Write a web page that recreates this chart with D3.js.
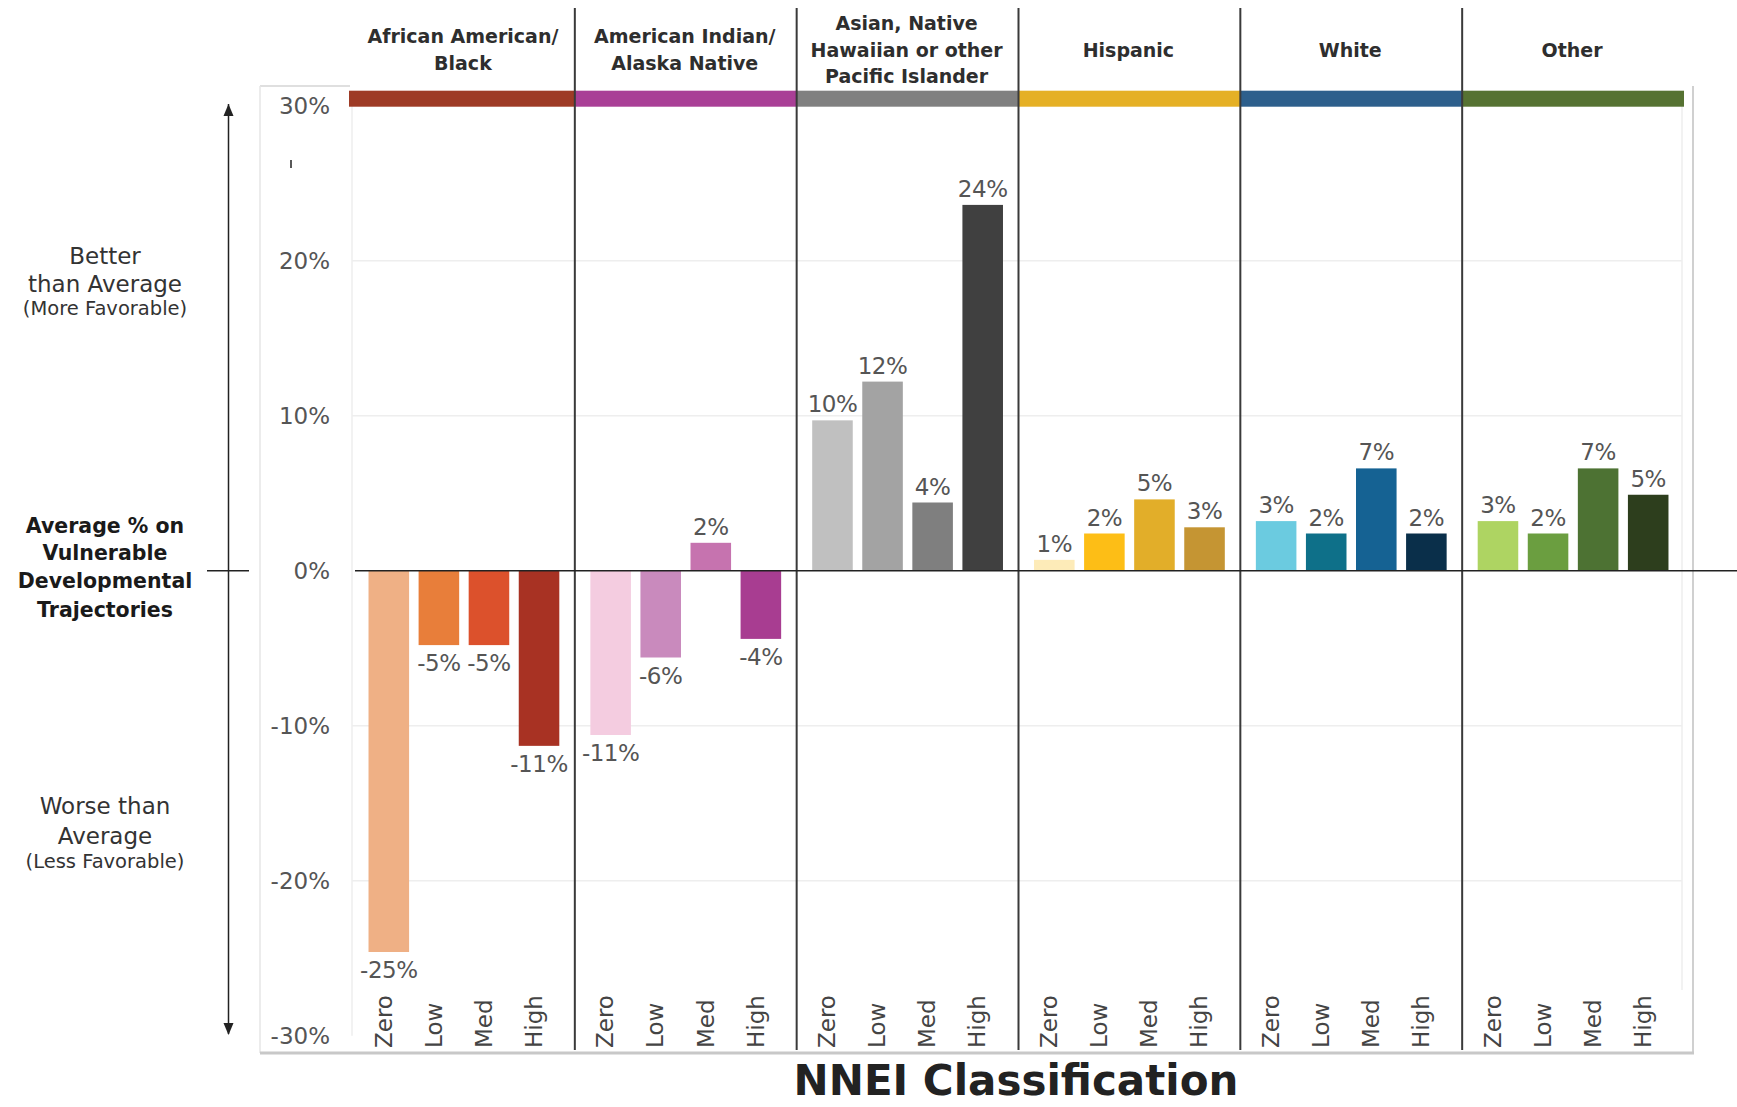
<!DOCTYPE html>
<html><head><meta charset="utf-8">
<script src="https://cdn.jsdelivr.net/npm/d3@7"></script>
<style>body{margin:0;background:#fff;} svg{display:block;font-family:"DejaVu Sans",sans-serif;}</style>
</head><body>
<svg id="chart" width="1737" height="1107"></svg>
<script>
// ---------- data ----------
const groups = ["African American/\nBlack", "American Indian/\nAlaska Native", "Asian, Native\nHawaiian or other\nPacific Islander", "Hispanic", "White", "Other"];
const levels = ["Zero", "Low", "Med", "High"];
const groupColors = ["#9E3B26", "#A93F96", "#808080", "#E5B025", "#2D5F8C", "#567232"];
const africanAmericanValues = [-24.6, -4.8, -4.8, -11.3];
const americanIndianValues = [-10.6, -5.6, 1.8, -4.4];
const asianValues = [9.7, 12.2, 4.4, 23.6];
const hispanicValues = [0.7, 2.4, 4.6, 2.8];
const whiteValues = [3.2, 2.4, 6.6, 2.4];
const otherValues = [3.2, 2.4, 6.6, 4.9];
const africanAmericanColors = ["#EFB085", "#E87E3A", "#DC512C", "#A83223"];
const americanIndianColors = ["#F4CCE0", "#C98ABD", "#C673AF", "#A83D91"];
const asianColors = ["#C0C0C0", "#A3A3A3", "#7F7F7F", "#404040"];
const hispanicColors = ["#FDEBB8", "#FDBE16", "#E2AE29", "#C59533"];
const whiteColors = ["#6BCBE0", "#0E7089", "#156293", "#0A2F4A"];
const otherColors = ["#AED462", "#6B9E40", "#4D7233", "#2D3E1D"];
const yTicks = [-30, -20, -10, 0, 10, 20, 30];
const xTitle = "NNEI Classification";

const seriesValues = [africanAmericanValues, americanIndianValues, asianValues, hispanicValues, whiteValues, otherValues];
const seriesColors = [africanAmericanColors, americanIndianColors, asianColors, hispanicColors, whiteColors, otherColors];

// ---------- layout ----------
const svg = d3.select("#chart");
const plotLeft = 353, plotRight = 1684;
const y = d3.scaleLinear().domain([-30, 30]).range([1035.7, 105.7]);
const xGroup = d3.scaleBand().domain(groups).range([plotLeft, plotRight]);
const xInner = d3.scaleBand().domain(levels).range([0, xGroup.bandwidth()]).paddingInner(0.19).paddingOuter(0.31);
const pct = v => (v < 0 ? "-" : "") + Math.abs(Math.round(v)) + "%";
const labelColor = "#555";

// outer frame
svg.append("line").attr("x1", 260).attr("x2", 350).attr("y1", 86).attr("y2", 86).attr("stroke", "#d4d4d4").attr("stroke-width", 1.5);
svg.append("line").attr("x1", 260).attr("x2", 260).attr("y1", 86).attr("y2", 1053).attr("stroke", "#e6e6e6").attr("stroke-width", 1.5);
svg.append("line").attr("x1", 1693).attr("x2", 1693).attr("y1", 86).attr("y2", 1053).attr("stroke", "#d0d0d0").attr("stroke-width", 2);
svg.append("line").attr("x1", 260).attr("x2", 1694).attr("y1", 1053).attr("y2", 1053).attr("stroke", "#c8c8c8").attr("stroke-width", 3);

// inner plot light lines
svg.append("line").attr("x1", 352).attr("x2", 352).attr("y1", 106).attr("y2", y(-30)).attr("stroke", "#eeeeee").attr("stroke-width", 1.5);
svg.append("line").attr("x1", 1682).attr("x2", 1682).attr("y1", 106).attr("y2", 990).attr("stroke", "#eeeeee").attr("stroke-width", 1.5);

// gridlines
svg.append("g").selectAll("line").data(yTicks.filter(t => t !== 0 && Math.abs(t) !== 30)).join("line")
  .attr("x1", 352).attr("x2", 1682).attr("y1", d => y(d)).attr("y2", d => y(d))
  .attr("stroke", "#eeeeee").attr("stroke-width", 1.5);

// y axis labels
const yAxis = d3.axisLeft(y).tickValues(yTicks).tickSize(0).tickPadding(6).tickFormat(pct);
const yg = svg.append("g").attr("transform", "translate(336,0)").call(yAxis);
yg.select(".domain").remove();
yg.selectAll("text").attr("font-size", 23).attr("fill", labelColor).attr("font-family", "DejaVu Sans, sans-serif");

// small stray tick mark
svg.append("line").attr("x1", 291).attr("x2", 291).attr("y1", 160).attr("y2", 168).attr("stroke", "#222").attr("stroke-width", 1.5);

// group color bands
svg.append("g").selectAll("rect").data(groups).join("rect")
  .attr("x", (d, i) => i === 0 ? xGroup(d) - 4 : xGroup(d)).attr("width", (d, i) => xGroup.bandwidth() + (i === 0 ? 4 : 0))
  .attr("y", 90.7).attr("height", 16)
  .attr("fill", (d, i) => groupColors[i]);

// bars
groups.forEach((g, gi) => {
  const gx = xGroup(g);
  const vals = seriesValues[gi];
  const cols = seriesColors[gi];
  const gg = svg.append("g").attr("transform", `translate(${gx},0)`);
  gg.selectAll("rect").data(levels).join("rect")
    .attr("x", d => xInner(d)).attr("width", xInner.bandwidth())
    .attr("y", (d, i) => y(Math.max(0, vals[i])))
    .attr("height", (d, i) => Math.abs(y(vals[i]) - y(0)))
    .attr("fill", (d, i) => cols[i]);
  gg.selectAll("text.val").data(levels).join("text").attr("class", "val")
    .attr("x", d => xInner(d) + xInner.bandwidth() / 2)
    .attr("y", (d, i) => vals[i] >= 0 ? y(vals[i]) - 8 : y(vals[i]) + 26)
    .attr("text-anchor", "middle").attr("font-size", 23).attr("fill", labelColor)
    .attr("letter-spacing", -0.5)
    .text((d, i) => pct(vals[i]));
  // x axis (rotated level labels)
  const xa = d3.axisBottom(xInner).tickSize(0);
  const ax = svg.append("g").attr("transform", `translate(${gx},1048)`).call(xa);
  ax.select(".domain").remove();
  ax.selectAll("text").attr("transform", "rotate(-90)").attr("text-anchor", "start")
    .attr("x", 0).attr("y", 0).attr("dy", "0.12em")
    .attr("font-size", 23).attr("fill", "#444").attr("font-family", "DejaVu Sans, sans-serif");
  // group title
  const lines = g.split("\n");
  const lh = 26.5, cy = 48.7;
  const t = svg.append("text").attr("text-anchor", "middle").attr("font-size", 19).attr("font-weight", "bold").attr("fill", "#2e2e2e");
  lines.forEach((ln, li) => {
    t.append("tspan").attr("x", gx + xGroup.bandwidth() / 2 - 1)
      .attr("y", cy + (li - (lines.length - 1) / 2) * lh + 8).text(ln);
  });
});

// group dividers
svg.append("g").selectAll("line").data(groups.slice(1)).join("line")
  .attr("x1", d => xGroup(d)).attr("x2", d => xGroup(d)).attr("y1", 8).attr("y2", 1050)
  .attr("stroke", "#3a3a3a").attr("stroke-width", 2);

// zero line
svg.append("line").attr("x1", 355).attr("x2", 1737).attr("y1", y(0)).attr("y2", y(0)).attr("stroke", "#222").attr("stroke-width", 1.5);
svg.append("line").attr("x1", 207).attr("x2", 249).attr("y1", y(0)).attr("y2", y(0)).attr("stroke", "#222").attr("stroke-width", 1.5);

// double arrow
svg.append("line").attr("x1", 228.5).attr("x2", 228.5).attr("y1", 104).attr("y2", 1034)
  .attr("stroke", "#222").attr("stroke-width", 1.5);
svg.append("path").attr("d", "M228.5,104 L223.5,116 L233.5,116 Z").attr("fill", "#222");
svg.append("path").attr("d", "M228.5,1035 L223.5,1023 L233.5,1023 Z").attr("fill", "#222");

// left annotations
const leftX = 105;
function addLines(arr) {
  arr.forEach(a => svg.append("text").attr("x", leftX).attr("y", a.y).attr("text-anchor", "middle")
    .attr("font-size", a.s).attr("font-weight", a.b ? "bold" : "normal").attr("fill", a.b ? "#1a1a1a" : "#333").text(a.t));
}
addLines([
  {t: "Better", y: 264, s: 23},
  {t: "than Average", y: 292, s: 23},
  {t: "(More Favorable)", y: 315, s: 19.5},
  {t: "Average % on", y: 533, s: 20.5, b: true},
  {t: "Vulnerable", y: 560, s: 20.5, b: true},
  {t: "Developmental", y: 588, s: 20.5, b: true},
  {t: "Trajectories", y: 617, s: 20.5, b: true},
  {t: "Worse than", y: 814, s: 23},
  {t: "Average", y: 844, s: 23},
  {t: "(Less Favorable)", y: 868, s: 19.5}
]);

// x title
svg.append("text").attr("x", 1016).attr("y", 1095).attr("text-anchor", "middle")
  .attr("font-size", 42).attr("font-weight", "bold").attr("fill", "#222").text(xTitle);
</script>
</body></html>
